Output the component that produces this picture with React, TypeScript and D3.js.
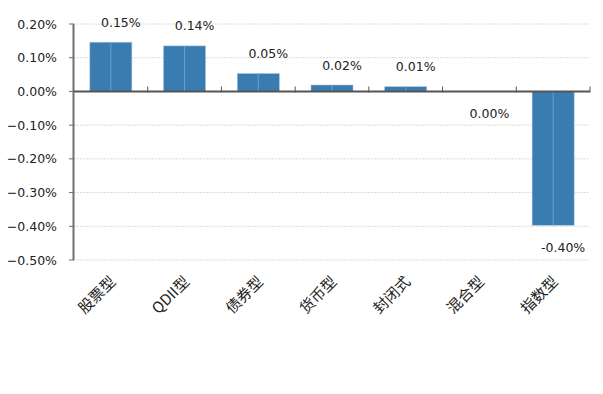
import React from "react";
import * as d3 from "d3";

// fund type categories and weekly return (%)
const categories = ["股票型", "QDII型", "债券型", "货币型", "封闭式", "混合型", "指数型"];
const values = [0.146, 0.135, 0.053, 0.019, 0.014, 0.0, -0.397];
const labels = ["0.15%", "0.14%", "0.05%", "0.02%", "0.01%", "0.00%", "-0.40%"];
const yTicks = [0.2, 0.1, 0, -0.1, -0.2, -0.3, -0.4, -0.5];

const W = 603, H = 394;
const margin = { top: 24, right: 13, bottom: 134, left: 74 };
const numFont = "'DejaVu Sans', Verdana, sans-serif";
const cjkFont = "'Noto Sans CJK SC', sans-serif";

export default function App() {
  const x = d3.scaleBand<string>()
    .domain(categories)
    .range([margin.left, W - margin.right])
    .paddingInner(0.43)
    .paddingOuter(0.215);
  const y = d3.scaleLinear().domain([-0.5, 0.2]).range([H - margin.bottom, margin.top]);
  const bands = d3.scaleBand<string>().domain(categories).range([margin.left, W - margin.right]);
  const y0 = y(0);

  return (
    <svg width={W} height={H} style={{ position: "absolute", left: 0, top: 0, background: "#fff" }}>
      {/* gridlines */}
      {yTicks.map(t => (
        <line key={"g" + t} x1={margin.left} x2={W - margin.right} y1={y(t)} y2={y(t)}
          stroke="#dcdcdc" strokeWidth={1} strokeDasharray="2,1" />
      ))}
      {/* bars */}
      {values.map((v, i) => {
        const c = categories[i];
        const bx = x(c)!, bw = x.bandwidth();
        const top = y(Math.max(0, v)), bot = y(Math.min(0, v));
        if (Math.abs(bot - top) < 0.5) return null;
        return (
          <g key={c}>
            <rect x={bx} y={top} width={bw} height={bot - top} fill="#3b7cb0" stroke="#9fc2e0" strokeWidth={0.6} />
            <line x1={bx + bw / 2} x2={bx + bw / 2} y1={top} y2={bot} stroke="#6d9fcb" strokeWidth={1} />
          </g>
        );
      })}
      {/* y axis */}
      <line x1={margin.left - 0.5} x2={margin.left - 0.5} y1={y(0.2)} y2={y(-0.5)} stroke="#6e6e6e" strokeWidth={2} />
      {yTicks.map(t => (
        <g key={"t" + t}>
          <line x1={margin.left - 5} x2={margin.left} y1={y(t)} y2={y(t)} stroke="#6e6e6e" strokeWidth={1} />
          <text x={57} y={y(t)} dy="0.36em" textAnchor="end" fontFamily={numFont} fontSize={12.5} fill="#222">
            {d3.format(".2f")(t) + "%"}
          </text>
        </g>
      ))}
      {/* zero line with tick marks between categories */}
      <line x1={margin.left} x2={W - margin.right} y1={y0} y2={y0} stroke="#555" strokeWidth={2} />
      {categories.slice(1).map(c => (
        <line key={"xt" + c} x1={bands(c)!} x2={bands(c)!} y1={y0 - 5} y2={y0 + 1} stroke="#555" strokeWidth={1} />
      ))}
      <line x1={W - margin.right} x2={W - margin.right} y1={y0 - 5} y2={y0 + 1} stroke="#555" strokeWidth={1} />
      {/* value labels */}
      {values.map((v, i) => {
        const cx = bands(categories[i])! + bands.bandwidth() / 2 + 10;
        const ly = v > 0 ? y(v) - 20 : y(Math.min(0, v)) + 22;
        return (
          <text key={"l" + i} x={cx} y={ly} dy="0.36em" textAnchor="middle" fontFamily={numFont} fontSize={12.5} fill="#222">
            {labels[i]}
          </text>
        );
      })}
      {/* category labels */}
      {categories.map(c => {
        const cx = bands(c)! + bands.bandwidth() / 2 + 2;
        const cy = 279;
        return (
          <text key={"c" + c} x={cx} y={cy} dy="0.35em" textAnchor="end" transform={`rotate(-45,${cx},${cy})`}
            fontFamily={cjkFont} fontSize={15} fill="#222">
            {c}
          </text>
        );
      })}
    </svg>
  );
}
